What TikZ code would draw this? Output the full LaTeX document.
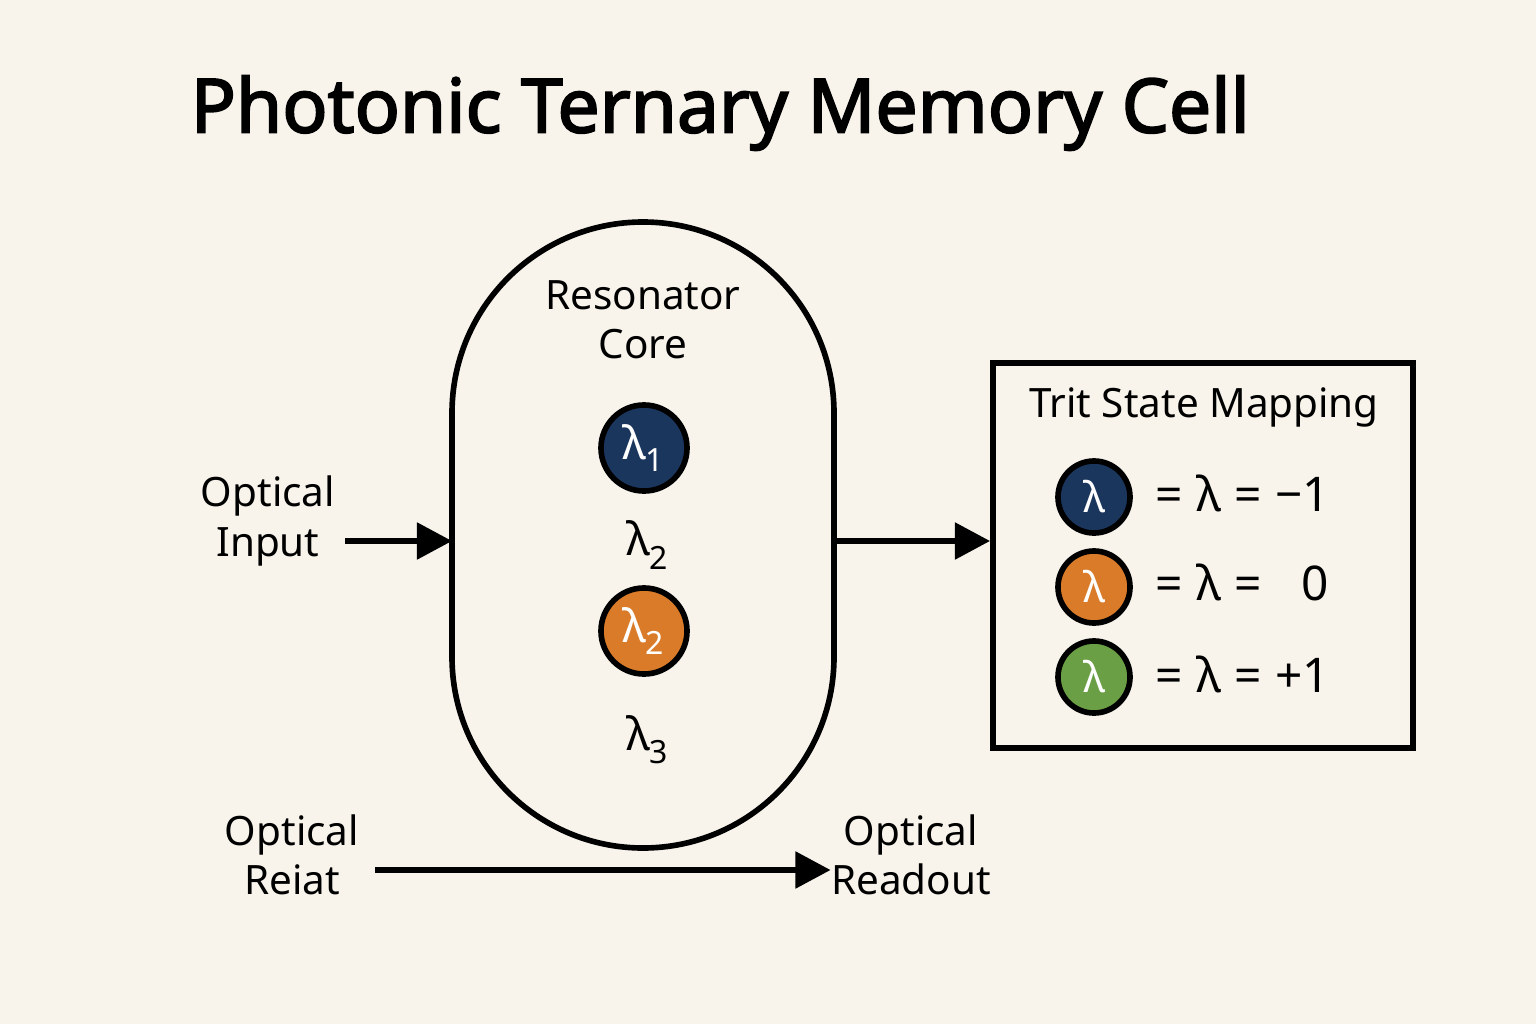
\documentclass[tikz,border=0pt]{standalone}
\usepackage{fontspec}
\setmainfont{Noto Sans}
\newfontfamily\titlefont{Noto Sans}[FakeBold=2.5]
\usetikzlibrary{arrows.meta}
\definecolor{bg}{HTML}{F8F4EC}
\definecolor{navy}{HTML}{1B365D}
\definecolor{orng}{HTML}{D97B29}
\definecolor{grn}{HTML}{6A9F45}
\begin{document}
\begin{tikzpicture}[x=0.01cm,y=-0.01cm,
  lbl/.style={font=\fontsize{11.5}{14}\selectfont, align=center, inner sep=0pt},
  ball/.style={circle, draw=black, line width=1.6pt, minimum size=0.86cm, inner sep=0pt, text=white, font=\fontsize{13}{15}\selectfont},
  sball/.style={circle, draw=black, line width=1.6pt, minimum size=0.72cm, inner sep=0pt, text=white, font=\fontsize{12}{14}\selectfont},
  arr/.style={line width=1.5pt, -{Triangle[length=0.35cm, width=0.36cm]}},
  keytxt/.style={font=\fontsize{13.6}{15}\selectfont, anchor=west, inner sep=0pt}
]
\fill[bg] (0,0) rectangle (1536,1024);
\useasboundingbox (0,0) rectangle (1536,1024);

\node[font=\titlefont\fontsize{21.3}{24}\selectfont, anchor=west, inner sep=0pt] (title) at (190,113) {Photonic Ternary Memory Cell};

% resonator stadium
\draw[line width=1.6pt] (452,413) arc[start angle=180, end angle=360, radius=191] -- (834,657) arc[start angle=0, end angle=180, radius=191] -- cycle;
\coordinate (resL) at (452,541);
\coordinate (resR) at (834,541);
\node[lbl] (core) at (643,320) {Resonator\\Core};
\node[ball, fill=navy] (l1) at (644,448) {λ\textsubscript{\raisebox{-0.3ex}{1}}};
\node[lbl, font=\fontsize{13}{15}\selectfont] (l2) at (648,545) {λ\textsubscript{\raisebox{-0.4ex}{2}}};
\node[ball, fill=orng] (l2b) at (644,631) {λ\textsubscript{\raisebox{-0.3ex}{2}}};
\node[lbl, font=\fontsize{13}{15}\selectfont] (l3) at (648,740) {λ\textsubscript{\raisebox{-0.4ex}{3}}};

% input
\node[lbl] (inp) at (268,521) {Optical\\Input};
\coordinate (inS) at (345,541);
\draw[arr] (inS) -- (resL);

% mapping box
\node[draw, line width=1.6pt, minimum width=4.2cm, minimum height=3.85cm, anchor=north west] (map) at (990,360) {};
\node[lbl] (maptitle) at (1204,407) {Trit State Mapping};
\draw[arr] (resR) -- (map.west |- resR);

\node[sball, fill=navy] (k1) at (1094,497) {λ};
\node[sball, fill=orng] (k2) at (1094,587) {λ};
\node[sball, fill=grn] (k3) at (1094,677) {λ};
\node[keytxt] (t1) at (1155,493) {=\;λ\;=\;−1};
\node[keytxt] (t2) at (1155,582) {=\;λ\;=\;\;\;0};
\node[keytxt] (t3) at (1155,674) {=\;λ\;=\;+1};

% bottom
\node[lbl] (reset) at (292,855) {Optical\\Reiat};
\node[lbl] (readout) at (911,855) {Optical\\Readout};
\coordinate (rs) at (375,870);
\draw[arr] (rs) -- (readout.west |- rs);
\end{tikzpicture}
\end{document}
